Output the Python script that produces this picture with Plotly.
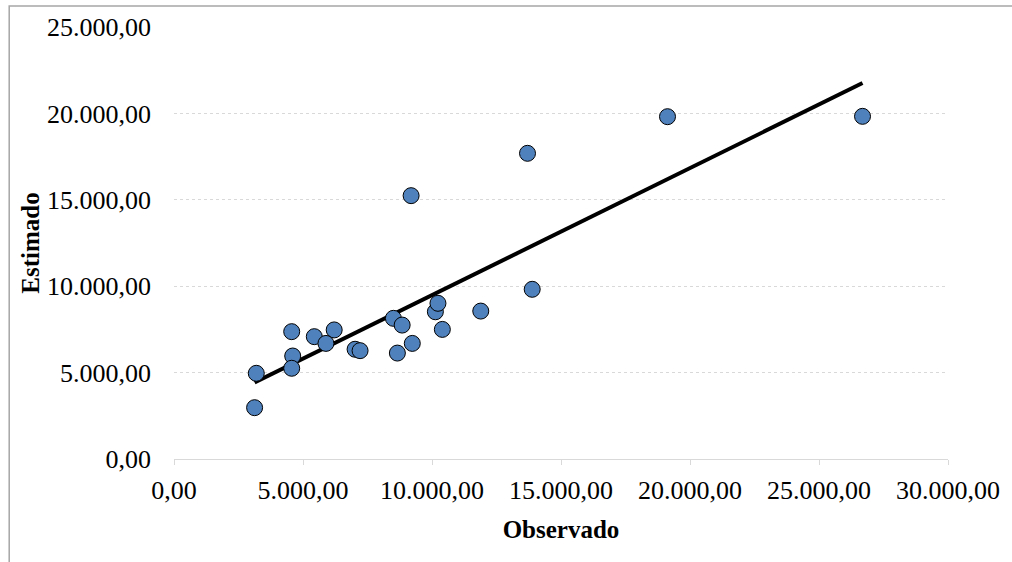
import numpy as np
import plotly.graph_objects as go

observado = [3124, 3189, 4562, 4601, 4562, 5438, 6209, 5889, 7019, 7212,
             8504, 8843, 8658, 9236, 9190, 10131, 10231, 10401, 11890,
             13702, 13884, 19128, 26687]
estimado = [2970, 4960, 7370, 5960, 5250, 7080, 7470, 6690, 6350, 6270,
            8140, 7750, 6130, 6690, 15240, 8520, 9010, 7500, 8560,
            17690, 9820, 19810, 19830]

tick_vals = [0, 5000, 10000, 15000, 20000, 25000, 30000]
x_tick_text = ["0,00", "5.000,00", "10.000,00", "15.000,00", "20.000,00", "25.000,00", "30.000,00"]
y_tick_vals = [0, 5000, 10000, 15000, 20000, 25000]
y_tick_text = ["0,00", "5.000,00", "10.000,00", "15.000,00", "20.000,00", "25.000,00"]

xa = np.array(observado, dtype=float)
ya = np.array(estimado, dtype=float)
slope, intercept = np.polyfit(xa, ya, 1)
line_x = [xa.min(), xa.max()]
line_y = [slope * v + intercept for v in line_x]

font_family = "Liberation Serif, Times New Roman, serif"

W, H = 1012, 562
L, R, T, B = 174, 56, 27, 103
pw, ph = W - L - R, H - T - B

fig = go.Figure()
fig.add_trace(go.Scatter(
    x=line_x, y=line_y, mode="lines",
    line=dict(color="black", width=4), showlegend=False, hoverinfo="skip"))
fig.add_trace(go.Scatter(
    x=observado, y=estimado, mode="markers",
    marker=dict(size=16, color="#4F81BD", line=dict(color="black", width=1)),
    showlegend=False))

fig.update_layout(
    width=W, height=H,
    margin=dict(l=L, r=R, t=T, b=B),
    paper_bgcolor="white", plot_bgcolor="white",
    font=dict(family=font_family, size=26, color="black"),
    xaxis=dict(
        range=[0, 30000], tickvals=tick_vals, ticktext=x_tick_text,
        showgrid=False, zeroline=False,
        showline=True, linecolor="#D9D9D9", linewidth=1,
        ticks="outside", ticklen=5, tickcolor="#D9D9D9",
        tickfont=dict(size=26), ticklabelstandoff=3,
        title=dict(text="<b>Observado</b>", font=dict(size=25), standoff=16),
    ),
    yaxis=dict(
        range=[0, 25000], tickvals=y_tick_vals, ticktext=y_tick_text,
        showgrid=True, gridcolor="#D9D9D9", griddash="dot", gridwidth=1,
        zeroline=False, showline=False, ticks="", ticklen=0,
        tickfont=dict(size=26), ticklabelstandoff=22,
        title=dict(text="<b>Estimado</b>", font=dict(size=25), standoff=0),
    ),
    shapes=[dict(type="rect", xref="paper", yref="paper",
                 x0=(7.5 - L) / pw, x1=(W + 20 - L) / pw,
                 y0=-(H + 20 - (H - B)) / ph, y1=(H - B - 6) / ph,
                 line=dict(color="#A6A6A6", width=1.5), layer="below")],
)

fig.write_html(
    "out.html",
    config={"displayModeBar": False},
    post_script="document.body.style.margin='0px';document.body.style.overflow='hidden';",
)
